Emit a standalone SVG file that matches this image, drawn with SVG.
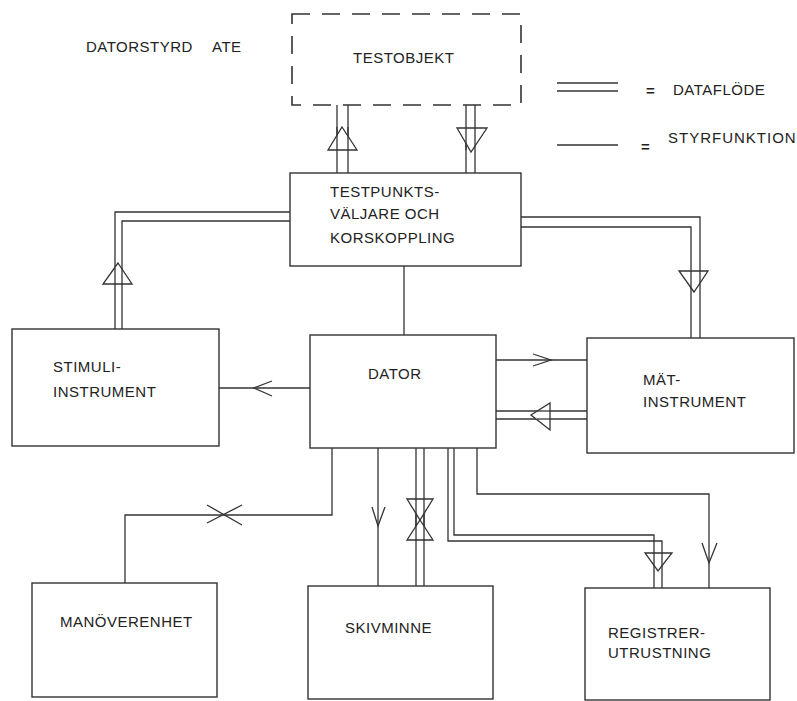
<svg xmlns="http://www.w3.org/2000/svg" width="797" height="701" viewBox="0 0 797 701">
<style>
.box{fill:#fff;stroke:#333;stroke-width:1.4}
.dash{fill:none;stroke:#333;stroke-width:1.6;stroke-dasharray:18 12}
.ln{fill:none;stroke:#333;stroke-width:1.3}
.tri{fill:#fff;stroke:#333;stroke-width:1.3;stroke-linejoin:miter}
text{font-family:"Liberation Sans",Arial,sans-serif;font-size:15px;fill:#222;letter-spacing:0.5px}
</style>
<rect width="797" height="701" fill="#fff"/>
<g id="title"><text x="86" y="52">DATORSTYRD</text><text x="212" y="52">ATE</text></g>
<g id="legend">
<line class="ln" x1="557" y1="83" x2="618" y2="83"/><line class="ln" x1="557" y1="91" x2="618" y2="91"/>
<text x="646" y="96" style="font-weight:bold">=</text><text x="673" y="95">DATAFLÖDE</text>
<line class="ln" x1="557" y1="145" x2="618" y2="145"/>
<text x="641" y="152" style="font-weight:bold">=</text><text x="668" y="143" style="letter-spacing:1px">STYRFUNKTION</text>
</g>
<g id="connectors">
<!-- Testobjekt <-> Testpunkt -->
<line class="ln" x1="337" y1="105" x2="337" y2="173"/><line class="ln" x1="348" y1="105" x2="348" y2="173"/>
<polygon class="tri" points="342,127 357,150 328,150"/>
<line class="ln" x1="337" y1="127" x2="337" y2="150"/><line class="ln" x1="348" y1="127" x2="348" y2="150"/>
<line class="ln" x1="466" y1="105" x2="466" y2="173"/><line class="ln" x1="475" y1="105" x2="475" y2="173"/>
<polygon class="tri" points="457,128 487,128 471,152"/>
<line class="ln" x1="466" y1="128" x2="466" y2="150"/><line class="ln" x1="475" y1="128" x2="475" y2="146"/>
<!-- Testpunkt -> Stimuli -->
<polyline class="ln" points="290,212 115,212 115,329"/>
<polyline class="ln" points="290,221 122,221 122,329"/>
<polygon class="tri" points="118,263 132,284 103,284"/>
<line class="ln" x1="115" y1="268" x2="115" y2="284"/><line class="ln" x1="122" y1="268" x2="122" y2="284"/>
<!-- Testpunkt -> Mät -->
<polyline class="ln" points="521,217 700,217 700,338"/>
<polyline class="ln" points="521,227 691,227 691,338"/>
<polygon class="tri" points="679,271 708,271 694,292"/>
<line class="ln" x1="691" y1="271" x2="691" y2="288"/><line class="ln" x1="700" y1="271" x2="700" y2="283"/>
<!-- Testpunkt - Dator -->
<line class="ln" x1="404" y1="266" x2="404" y2="335"/>
<!-- Dator -> Stimuli -->
<line class="ln" x1="310" y1="388" x2="219" y2="388"/>
<polyline class="ln" points="272,381 254,388 272,396"/>
<!-- Dator -> Mät -->
<line class="ln" x1="496" y1="360" x2="587" y2="360"/>
<polyline class="ln" points="533,354 551,360 533,366"/>
<!-- Mät -> Dator (data) -->
<line class="ln" x1="496" y1="411" x2="587" y2="411"/><line class="ln" x1="496" y1="419" x2="587" y2="419"/>
<polygon class="tri" points="531,415 550,403 550,430"/>
<line class="ln" x1="537" y1="411" x2="550" y2="411"/><line class="ln" x1="537" y1="419" x2="550" y2="419"/>
<!-- Dator -> Manöver -->
<polyline class="ln" points="332,448 332,515 125,515 125,583"/>
<line class="ln" x1="207" y1="505" x2="242" y2="525"/><line class="ln" x1="207" y1="523" x2="242" y2="505"/>
<!-- Dator -> Skivminne (control) -->
<line class="ln" x1="378" y1="448" x2="378" y2="586"/>
<polyline class="ln" points="372,507 378,526 385,507"/>
<!-- Dator <-> Skivminne (data) -->
<line class="ln" x1="416" y1="448" x2="416" y2="586"/><line class="ln" x1="424" y1="448" x2="424" y2="586"/>
<polygon class="tri" points="407,499 433,499 420,520"/>
<polygon class="tri" points="420,520 433,540 407,540"/>
<line class="ln" x1="416" y1="499" x2="416" y2="540"/><line class="ln" x1="424" y1="499" x2="424" y2="540"/>
<!-- Dator -> Registrer (data) -->
<polyline class="ln" points="448,448 448,541 662,541 662,588"/>
<polyline class="ln" points="454,448 454,535 654,535 654,588"/>
<polygon class="tri" points="645,553 672,553 658,571"/>
<line class="ln" x1="654" y1="553" x2="654" y2="566"/><line class="ln" x1="662" y1="553" x2="662" y2="566"/>
<!-- Dator -> Registrer (control) -->
<polyline class="ln" points="477,448 477,494 709,494 709,588"/>
<polyline class="ln" points="702,543 709,563 717,543"/>
</g>
<g id="testobjekt"><rect class="dash" x="292" y="14" width="229" height="91"/><text x="353" y="63">TESTOBJEKT</text></g>
<g id="testpunkt"><rect class="box" x="290" y="173" width="231" height="93"/><text x="330" y="197">TESTPUNKTS-</text><text x="330" y="219">VÄLJARE OCH</text><text x="330" y="243">KORSKOPPLING</text></g>
<g id="stimuli"><rect class="box" x="12" y="329" width="207" height="117"/><text x="53" y="372">STIMULI-</text><text x="53" y="397">INSTRUMENT</text></g>
<g id="dator"><rect class="box" x="310" y="335" width="186" height="113"/><text x="368" y="379">DATOR</text></g>
<g id="mat"><rect class="box" x="587" y="338" width="207" height="115"/><text x="643" y="385">MÄT-</text><text x="643" y="407">INSTRUMENT</text></g>
<g id="manover"><rect class="box" x="32" y="583" width="185" height="114"/><text x="60" y="627">MANÖVERENHET</text></g>
<g id="skivminne"><rect class="box" x="308" y="586" width="185" height="113"/><text x="345" y="633">SKIVMINNE</text></g>
<g id="registrer"><rect class="box" x="585" y="588" width="185" height="112"/><text x="608" y="638">REGISTRER-</text><text x="608" y="658">UTRUSTNING</text></g>
</svg>
